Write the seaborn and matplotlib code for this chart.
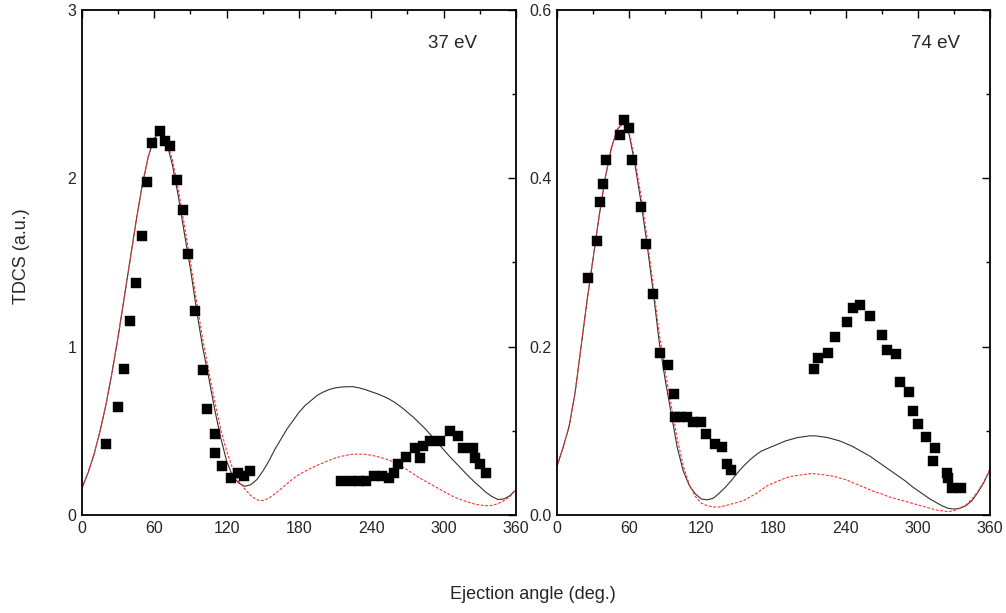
import numpy as np
import pandas as pd
import seaborn as sns
import matplotlib.pyplot as plt
from matplotlib.ticker import MultipleLocator

# ---- experimental points, 37 eV ----
ang37 = [20, 30, 35, 40, 45, 50, 54, 58, 65, 69, 73, 79, 84, 88, 94, 100, 104,
         110, 110, 116, 124, 129, 134, 139,
         215, 223, 230, 236, 242, 249, 255, 259, 262, 269, 276, 280, 283, 289,
         297, 305, 312, 316, 324, 326, 330, 335]
tdcs37 = [0.42, 0.64, 0.87, 1.15, 1.38, 1.66, 1.98, 2.21, 2.28, 2.22, 2.19, 1.99,
          1.81, 1.55, 1.21, 0.86, 0.63, 0.48, 0.37, 0.29, 0.22, 0.25, 0.23, 0.26,
          0.20, 0.20, 0.20, 0.20, 0.23, 0.23, 0.22, 0.25, 0.30, 0.345, 0.40, 0.34,
          0.41, 0.44, 0.44, 0.50, 0.47, 0.40, 0.40, 0.34, 0.30, 0.25]

# ---- experimental points, 74 eV ----
ang74 = [26, 33, 36, 38, 41, 52, 56, 60, 62, 70, 74, 80, 86, 92, 97, 98, 102, 108,
         113, 120, 124, 131, 137, 141, 145,
         214, 217, 225, 231, 241, 246, 252, 260, 270, 274, 282, 285, 293, 296,
         300, 307, 314, 313, 324, 325, 328, 336]
tdcs74 = [0.281, 0.325, 0.372, 0.393, 0.422, 0.452, 0.469, 0.460, 0.422, 0.366,
          0.322, 0.263, 0.193, 0.178, 0.144, 0.117, 0.117, 0.117, 0.111, 0.111,
          0.096, 0.084, 0.081, 0.061, 0.053,
          0.173, 0.187, 0.193, 0.211, 0.229, 0.246, 0.249, 0.237, 0.214, 0.196,
          0.191, 0.158, 0.146, 0.123, 0.108, 0.093, 0.079, 0.064, 0.050, 0.044,
          0.032, 0.032]

# ---- theory curves, read every 5 deg ----
theta = list(range(0, 361, 5))

th37_solid = [0.16, 0.25, 0.36, 0.50, 0.66, 0.85, 1.06, 1.29, 1.52, 1.75, 1.96, 2.13,
              2.24, 2.27, 2.22, 2.08, 1.89, 1.67, 1.46, 1.22, 1.00, 0.82, 0.63, 0.46,
              0.32, 0.23, 0.19, 0.17, 0.18, 0.21, 0.26, 0.32, 0.39, 0.45, 0.51, 0.56,
              0.61, 0.65, 0.68, 0.71, 0.73, 0.745, 0.755, 0.76, 0.762, 0.762, 0.755,
              0.745, 0.732, 0.72, 0.705, 0.688, 0.666, 0.64, 0.61, 0.58, 0.545, 0.51,
              0.47, 0.43, 0.388, 0.347, 0.31, 0.272, 0.235, 0.20, 0.168, 0.135, 0.11,
              0.092, 0.095, 0.115, 0.15]
th37_dash = [0.16, 0.25, 0.36, 0.50, 0.66, 0.85, 1.06, 1.29, 1.52, 1.75, 1.96, 2.13,
             2.24, 2.27, 2.23, 2.11, 1.93, 1.72, 1.50, 1.27, 1.05, 0.86, 0.68, 0.51,
             0.38, 0.275, 0.20, 0.155, 0.115, 0.09, 0.085, 0.10, 0.125, 0.155, 0.185,
             0.215, 0.24, 0.26, 0.278, 0.295, 0.31, 0.325, 0.338, 0.348, 0.356, 0.361,
             0.362, 0.36, 0.355, 0.347, 0.337, 0.325, 0.31, 0.29, 0.267, 0.243, 0.22,
             0.20, 0.18, 0.16, 0.14, 0.12, 0.103, 0.09, 0.077, 0.066, 0.059, 0.055,
             0.057, 0.067, 0.085, 0.11, 0.15]

th74_solid = [0.058, 0.08, 0.105, 0.145, 0.20, 0.255, 0.305, 0.355, 0.40, 0.435,
              0.458, 0.466, 0.452, 0.415, 0.37, 0.32, 0.265, 0.205, 0.16, 0.12, 0.08,
              0.052, 0.035, 0.025, 0.019, 0.018, 0.02, 0.026, 0.033, 0.041, 0.05,
              0.058, 0.065, 0.071, 0.076, 0.079, 0.082, 0.085, 0.088, 0.09, 0.092,
              0.093, 0.094, 0.094, 0.093, 0.092, 0.09, 0.088, 0.085, 0.082, 0.078,
              0.074, 0.07, 0.065, 0.06, 0.055, 0.05, 0.045, 0.04, 0.034, 0.029,
              0.024, 0.019, 0.015, 0.011, 0.008, 0.007, 0.008, 0.011, 0.017, 0.027,
              0.039, 0.054]
th74_dash = [0.058, 0.08, 0.105, 0.145, 0.20, 0.255, 0.305, 0.355, 0.40, 0.435,
             0.458, 0.466, 0.455, 0.42, 0.378, 0.328, 0.272, 0.215, 0.17, 0.13, 0.09,
             0.058, 0.036, 0.022, 0.014, 0.011, 0.0095, 0.0095, 0.011, 0.013, 0.015,
             0.017, 0.021, 0.025, 0.03, 0.035, 0.038, 0.041, 0.044, 0.046, 0.047,
             0.048, 0.049, 0.049, 0.048, 0.047, 0.046, 0.044, 0.042, 0.039, 0.036,
             0.033, 0.03, 0.027, 0.025, 0.022, 0.02, 0.018, 0.016, 0.014, 0.012,
             0.01, 0.008, 0.006, 0.005, 0.004, 0.005, 0.008, 0.012, 0.019, 0.028,
             0.04, 0.054]

sns.set_style("white")
plt.rcParams['font.family'] = ['Liberation Sans', 'DejaVu Sans']

fig = plt.figure(figsize=(10.06, 6.13), dpi=100)
ax1 = fig.add_axes([0.0815, 0.1599, 0.4314, 0.8238])
ax2 = fig.add_axes([0.5537, 0.1599, 0.4304, 0.8238])

panels = [
    (ax1, ang37, tdcs37, th37_solid, th37_dash, 3.0, 1.0, 0.5, "37 eV", "{:.0f}", 0.854),
    (ax2, ang74, tdcs74, th74_solid, th74_dash, 0.6, 0.2, 0.1, "74 eV", "{:.1f}", 0.873),
]

for ax, ang, val, solid, dash, ymax, ymaj, ymin, label, fmt, lx in panels:
    curves = pd.DataFrame({"theta": theta, "solid": solid, "dash": dash})
    sns.lineplot(data=curves, x="theta", y="solid", ax=ax, color="#333333",
                 linewidth=0.8)
    sns.lineplot(data=curves, x="theta", y="dash", ax=ax, color="#ff3030",
                 linewidth=0.8, linestyle=(0, (2.5, 1.5)))
    pts = pd.DataFrame({"angle": ang, "tdcs": val})
    sns.scatterplot(data=pts, x="angle", y="tdcs", ax=ax, marker="s", s=55,
                    color="black", edgecolor="black", linewidth=0.3, zorder=5)

    ax.set_xlim(0, 360)
    ax.set_ylim(0, ymax)
    ax.xaxis.set_major_locator(MultipleLocator(60))
    ax.xaxis.set_minor_locator(MultipleLocator(30))
    ax.yaxis.set_minor_locator(MultipleLocator(ymin))
    yt = np.arange(0, ymax + ymaj / 2, ymaj)
    ax.set_yticks(yt)
    ax.set_yticklabels([fmt.format(t) for t in yt])
    ax.tick_params(which="both", direction="in", top=True, right=True,
                   labelsize=11.5, pad=4, width=1.0, color="black")
    ax.tick_params(which="major", length=6)
    ax.tick_params(which="minor", length=3)
    for sp in ax.spines.values():
        sp.set_linewidth(1.3)
        sp.set_color("black")
    ax.set_xlabel("")
    ax.set_ylabel("")
    ax.text(lx, 0.933, label, transform=ax.transAxes, ha="center",
            va="center", fontsize=13.5)

fig.text(0.53, 0.03, "Ejection angle (deg.)", ha="center", va="center",
         fontsize=13)
fig.text(0.021, 0.582, "TDCS (a.u.)", ha="center", va="center",
         rotation=90, fontsize=13)

fig.savefig("out.png", dpi=100)
